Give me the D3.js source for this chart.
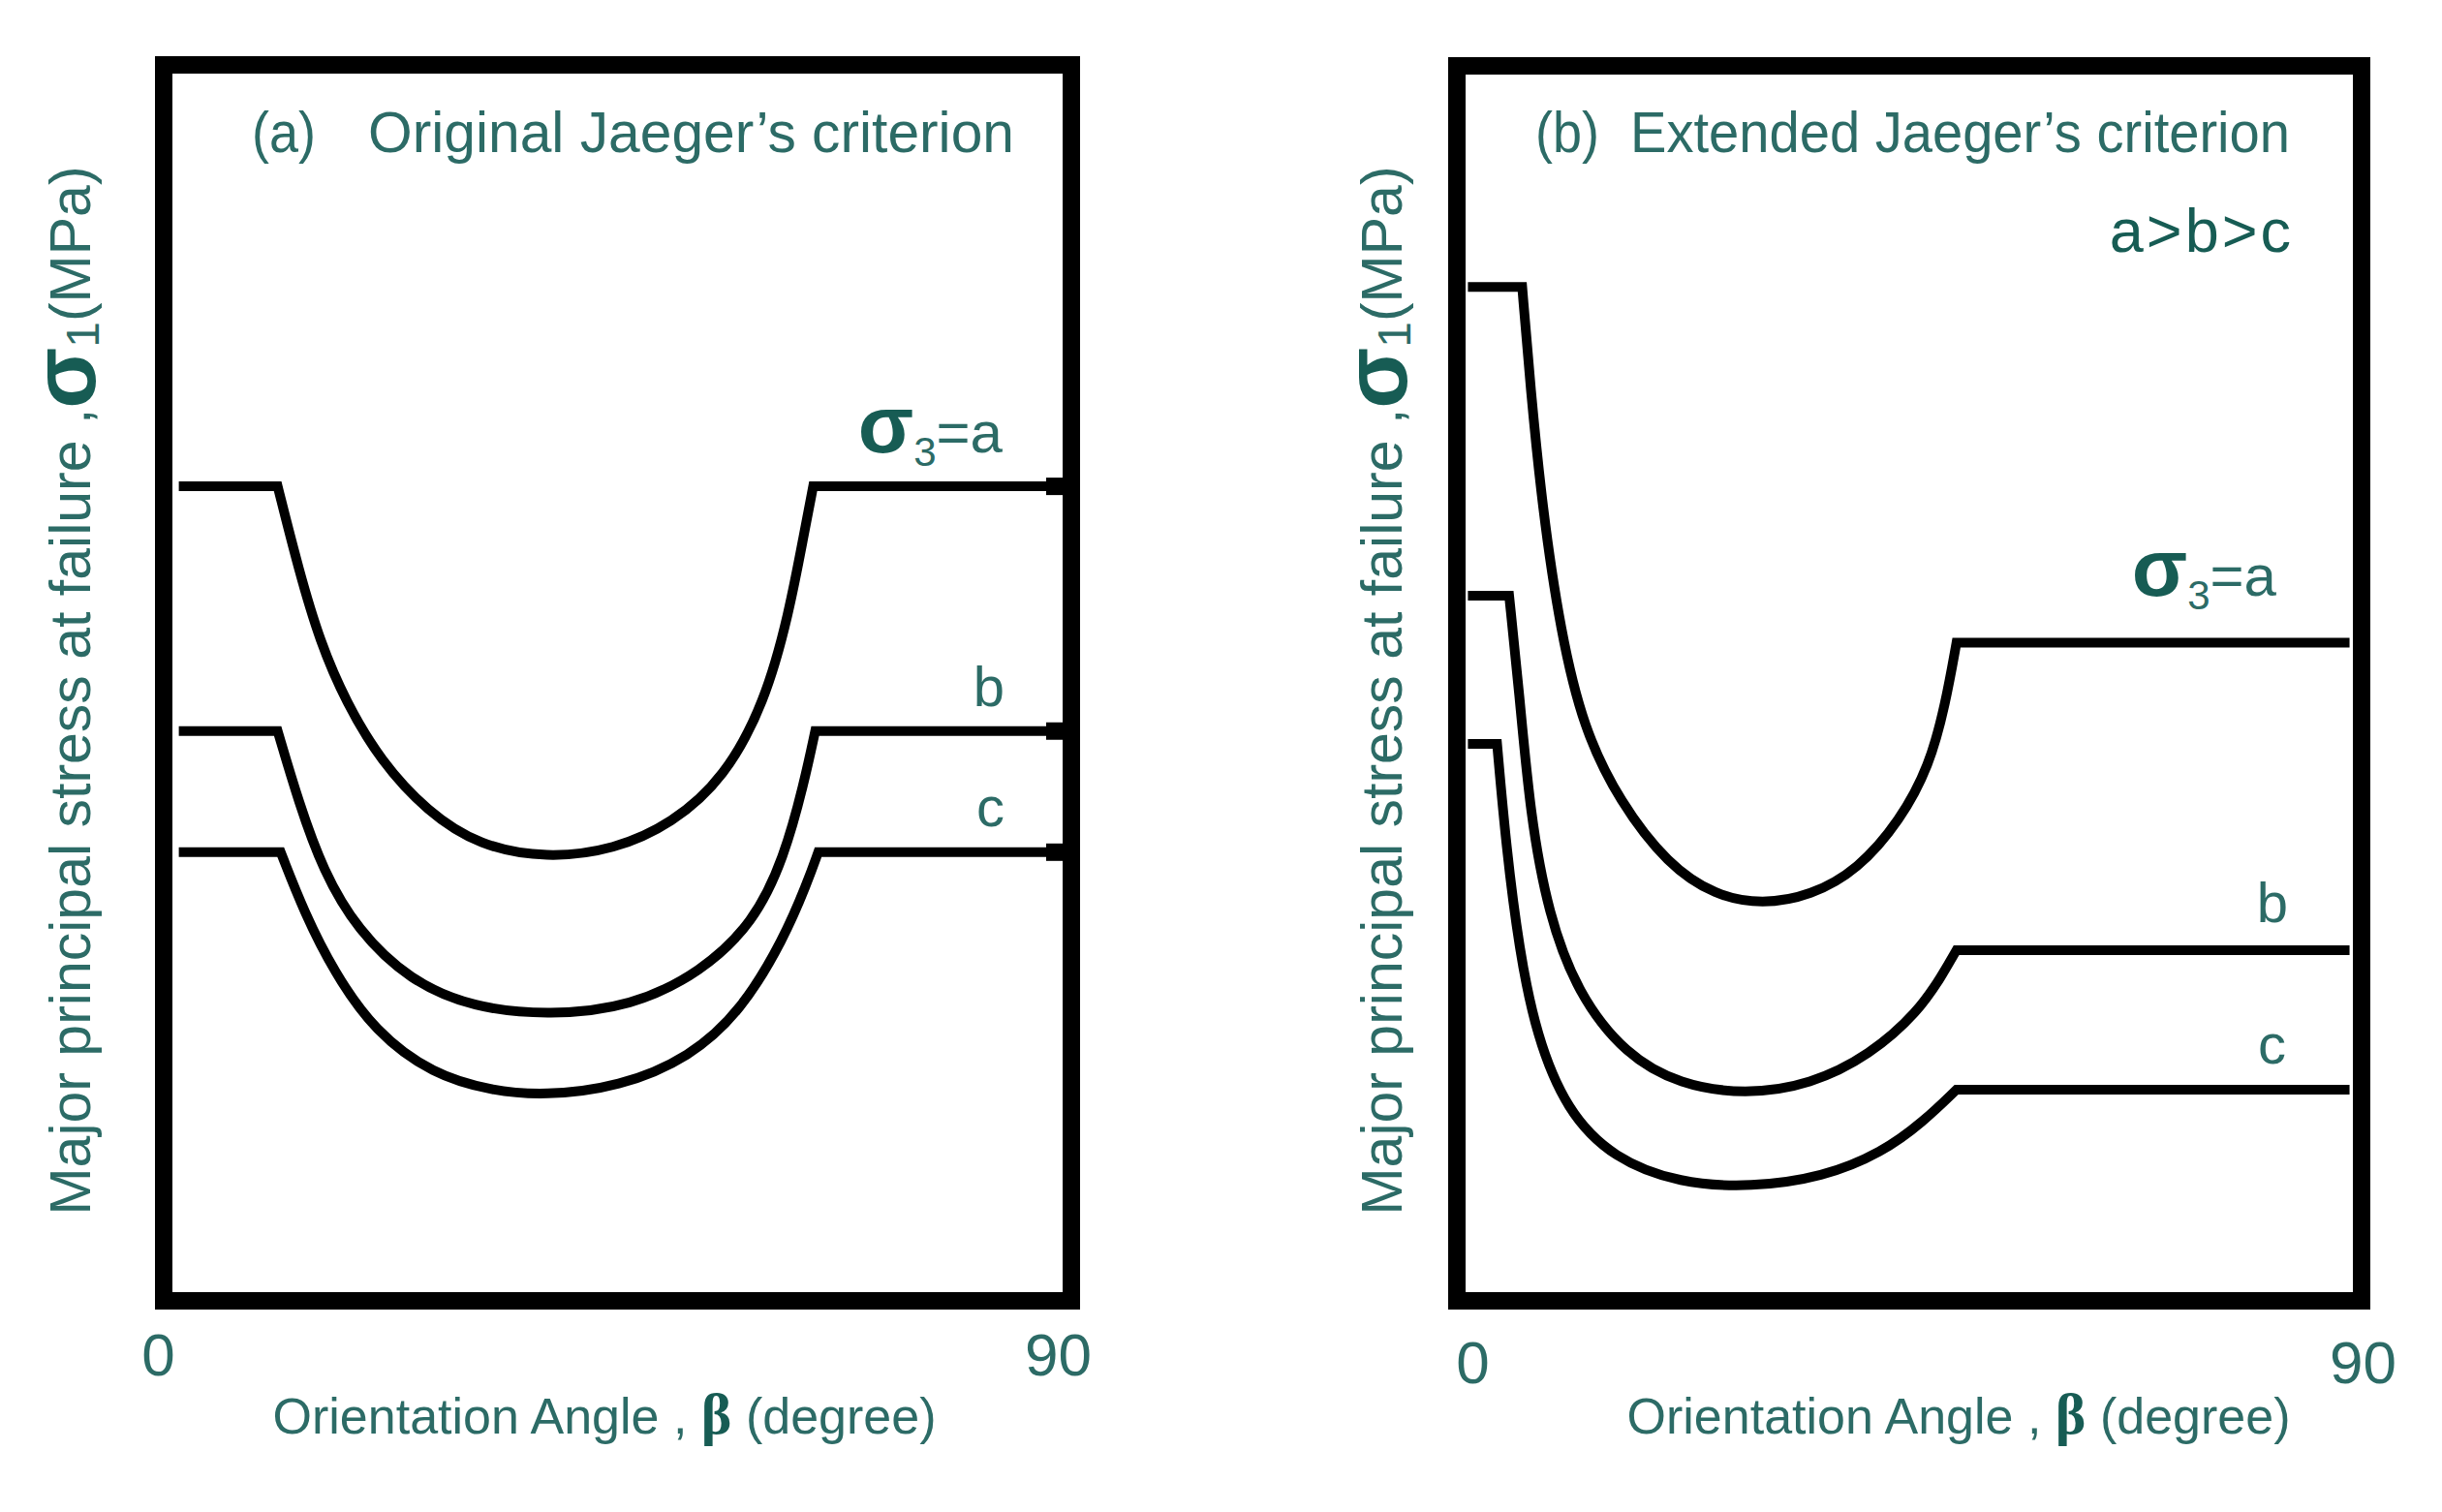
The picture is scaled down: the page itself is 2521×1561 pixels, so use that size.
<!DOCTYPE html>
<meta charset="utf-8">
<style>
body { margin: 0; background: #fff; }
</style>
<svg width="2521" height="1561"></svg>
<script src="https://d3js.org/d3.v7.min.js"></script>
<script>

// orientation angle (deg) vs major principal stress (arbitrary units, 0-100 of frame)
var angleTicks = [0, 90];
var curveNames = ["a", "b", "c"];

var leftA = [[1.5,65.9],[11.3,65.9],[13.4,59.1],[15.5,53.3],[18.1,48.4],[21.5,43.7],[26.1,39.6],[31.3,36.8],[38.0,35.8],[44.7,36.5],[50.4,38.6],[55.6,42.3],[59.6,48.4],[62.0,55.6],[63.5,62.1],[64.4,65.9],[90,65.9]];
var leftB = [[1.5,46.1],[11.3,46.1],[13.4,40.3],[15.8,34.8],[19.2,30.0],[24.4,25.9],[30.7,23.7],[38.3,23.1],[46.4,23.8],[53.3,26.6],[58.5,30.6],[61.5,35.8],[63.5,41.9],[64.6,46.1],[90,46.1]];
var leftC = [[1.5,36.3],[11.6,36.3],[14.0,31.3],[16.9,26.6],[20.9,21.8],[26.7,18.3],[32.5,17.0],[37.7,16.6],[45.2,17.3],[52.2,19.7],[57.3,23.5],[61.5,29.3],[63.8,33.8],[64.9,36.3],[90,36.3]];

var rightA = [[1.1,82.1],[6.5,82.1],[7.3,74.1],[8.5,64.2],[10.3,54.2],[12.6,46.3],[16.2,40.4],[21.0,35.3],[25.7,32.8],[30.4,32.1],[35.2,32.8],[39.9,34.9],[44.1,38.9],[47.0,43.3],[48.6,48.3],[49.7,53.3],[88.8,53.3]];
var rightB = [[1.1,57.1],[5.2,57.1],[6.2,49.3],[7.3,39.3],[9.1,31.3],[12.0,24.9],[16.8,19.9],[22.2,17.5],[28.7,16.7],[35.2,17.5],[41.1,19.9],[45.9,23.4],[48.3,26.4],[49.7,28.4],[88.8,28.4]];
var rightC = [[1.1,45.1],[4.0,45.1],[4.9,36.8],[6.2,28.4],[7.9,21.5],[10.9,15.4],[15.6,11.5],[22.2,9.5],[29.3,9.2],[36.4,10.0],[42.3,12.0],[46.4,14.5],[49.7,17.1],[88.8,17.1]];

var svg = d3.select("svg");
var teal = "#2c6b66", tealDark = "#175c54";
var font = "'Liberation Sans', Arial, Helvetica, sans-serif";

var panels = [
  { left: 169, right: 1106, top: 67, bottom: 1343,
    curves: [leftA, leftB, leftC], endBlobs: true,
    tag: "(a)", tagX: 260, title: "Original Jaeger\u2019s criterion", titleX: 380, titleLen: 667,
    note: null,
    labelEnds: [[1035, 467], [1037, 729], [1037, 853]],
    tickY: 1420, tickDx: [-6, -14],
    xLabelX: 624, yLabelX: 93, yLabelY: 713 },
  { left: 1504, right: 2438, top: 68, bottom: 1343,
    curves: [rightA, rightB, rightC], endBlobs: false,
    tag: "(b)", tagX: 1585, title: "Extended Jaeger\u2019s criterion", titleX: 1683, titleLen: 681,
    note: "a>b>c",
    labelEnds: [[2350, 615], [2362, 952], [2360, 1098]],
    tickY: 1428, tickDx: [16, 1],
    xLabelX: 2022, yLabelX: 1447, yLabelY: 713 }
];

// flat start, smooth U through the inner points, flat end
function curvePath(pts, x, y) {
  var n = pts.length;
  var mid = d3.line()
      .x(d => x(d[0]))
      .y(d => y(d[1]))
      .curve(d3.curveBasis)(pts.slice(1, n - 1));
  return "M" + x(pts[0][0]) + "," + y(pts[0][1]) + "L" + mid.slice(1) +
         "L" + x(pts[n - 1][0]) + "," + y(pts[n - 1][1]);
}

panels.forEach(drawPanel);

function drawPanel(p) {
  var g = svg.append("g");
  var x = d3.scaleLinear().domain([0, 90]).range([p.left, p.right]);
  var y = d3.scaleLinear().domain([0, 100]).range([p.bottom, p.top]);

  g.selectAll("path.curve")
    .data(p.curves)
    .enter().append("path")
      .attr("class", "curve")
      .attr("d", d => curvePath(d, x, y))
      .attr("fill", "none")
      .attr("stroke", "#000")
      .attr("stroke-width", 10);

  if (p.endBlobs) {
    g.selectAll("line.blob")
      .data(p.curves)
      .enter().append("line")
        .attr("x1", x(87.5)).attr("x2", x(90))
        .attr("y1", d => y(d[d.length - 1][1]))
        .attr("y2", d => y(d[d.length - 1][1]))
        .attr("stroke", "#000")
        .attr("stroke-width", 18);
  }

  // frame
  g.append("rect")
    .attr("x", x(0)).attr("y", y(100))
    .attr("width", x(90) - x(0)).attr("height", y(0) - y(100))
    .attr("fill", "none")
    .attr("stroke", "#000")
    .attr("stroke-width", 18);

  // ticks 0 / 90
  var axis = g.append("g")
      .attr("transform", "translate(0," + p.tickY + ")")
      .call(d3.axisBottom(x).tickValues(angleTicks).tickSize(0).tickPadding(0));
  axis.select(".domain").remove();
  axis.attr("font-size", 62).attr("font-family", font);
  axis.selectAll("text")
      .attr("y", 0).attr("dy", 0)
      .attr("dx", (d, i) => p.tickDx[i])
      .attr("fill", teal);

  // title
  g.append("text")
    .attr("x", p.tagX).attr("y", 157)
    .attr("font-family", font).attr("font-size", 60)
    .attr("fill", teal)
    .attr("textLength", 66).attr("lengthAdjust", "spacingAndGlyphs")
    .text(p.tag);
  g.append("text")
    .attr("x", p.titleX).attr("y", 157)
    .attr("font-family", font).attr("font-size", 60)
    .attr("fill", teal)
    .attr("textLength", p.titleLen).attr("lengthAdjust", "spacingAndGlyphs")
    .text(p.title);

  if (p.note) {
    g.append("text")
      .attr("x", 2368).attr("y", 260)
      .attr("text-anchor", "end")
      .attr("font-family", font).attr("font-size", 63)
      .attr("fill", tealDark)
      .attr("letter-spacing", 3)
      .text(p.note);
  }

  // curve labels
  curveNames.forEach(function(name, i) {
    var t = g.append("text")
        .attr("x", p.labelEnds[i][0]).attr("y", p.labelEnds[i][1])
        .attr("text-anchor", "end")
        .attr("font-family", font)
        .attr("fill", teal);
    if (i === 0) {
      t.append("tspan").attr("font-size", 84).attr("font-weight", "bold").attr("fill", tealDark).text("\u03c3");
      t.append("tspan").attr("font-size", 42).attr("dy", 14).text("3");
      t.append("tspan").attr("font-size", 60).attr("dy", -14).text("=" + name);
    } else {
      t.attr("font-size", 58).text(name);
    }
  });

  // x label
  var xl = g.append("text")
      .attr("x", p.xLabelX).attr("y", 1480)
      .attr("text-anchor", "middle")
      .attr("font-family", font).attr("font-size", 52)
      .attr("fill", teal);
  xl.append("tspan").text("Orientation Angle , ");
  xl.append("tspan").attr("font-family", "'Liberation Serif', serif").attr("font-weight", "bold")
    .attr("font-size", 60).attr("fill", tealDark).text("\u03b2");
  xl.append("tspan").text(" (degree)");

  // y label
  var yl = g.append("text")
      .attr("transform", "translate(" + p.yLabelX + "," + p.yLabelY + ") rotate(-90)")
      .attr("text-anchor", "middle")
      .attr("font-family", font).attr("font-size", 59)
      .attr("fill", teal);
  yl.append("tspan").text("Major principal stress at failure ,");
  yl.append("tspan").attr("font-size", 92).attr("font-weight", "bold").attr("fill", tealDark)
    .attr("dy", 5).text("\u03c3");
  yl.append("tspan").attr("font-size", 48).attr("dy", 4).text("1");
  yl.append("tspan").attr("dy", -9).text("(MPa)");
}

</script>
